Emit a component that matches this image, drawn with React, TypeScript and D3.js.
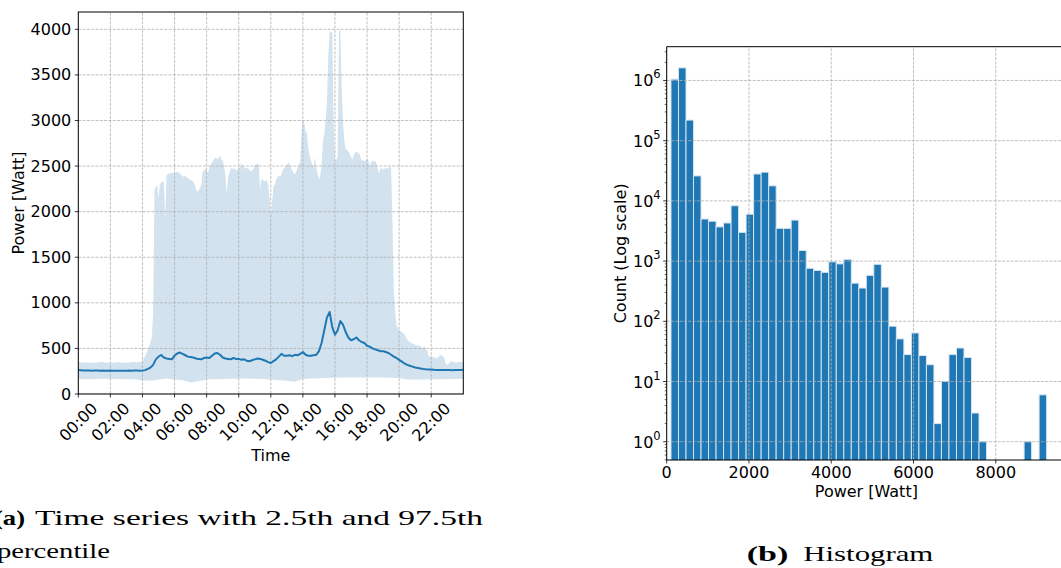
import React from "react";
import * as d3 from "d3";

// ---------- Time series (5-minute upper percentile, 10-minute mean, 30-minute lower percentile) ----------
const timeTickLabels = ["00:00", "02:00", "04:00", "06:00", "08:00", "10:00", "12:00", "14:00", "16:00", "18:00", "20:00", "22:00"];
const powerTicks = [0, 500, 1000, 1500, 2000, 2500, 3000, 3500, 4000];

// 97.5th percentile, one value every 5 minutes from 00:00 to 24:00
const upper975 = [
  352, 350, 348, 346, 344, 345, 346, 344, 343, 344, 345, 344,
  343, 344, 346, 348, 350, 352, 350, 348, 346, 345, 344, 343,
  342, 343, 344, 345, 346, 347, 348, 346, 345, 344, 343, 342,
  343, 344, 346, 348, 350, 352, 350, 349, 348, 350, 352, 355,
  360, 390, 420, 450, 480, 520, 570, 620, 900, 2240, 2270, 2285,
  2150, 2300, 2320, 2330, 2330, 1920, 2400, 2410, 2420, 2415, 2430, 2420,
  2420, 2430, 2440, 2430, 2425, 2400, 2390, 2380, 2400, 2380, 2370, 2350,
  2350, 2340, 2330, 2300, 2250, 2220, 2230, 2260, 2300, 2440, 2450, 2470,
  2460, 2420, 2480, 2520, 2540, 2560, 2580, 2600, 2570, 2590, 2620, 2570,
  2560, 2500, 2400, 2200, 2380, 2420, 2470, 2480, 2460, 2480, 2450, 2460,
  2470, 2490, 2530, 2500, 2490, 2470, 2480, 2475, 2460, 2440, 2450, 2470,
  2500, 2520, 2530, 2510, 2240, 2360, 2350, 2340, 2330, 2350, 2300, 2170,
  1950, 2100, 2280, 2300, 2350, 2380, 2400, 2380, 2410, 2460, 2480, 2490,
  2510, 2540, 2520, 2480, 2460, 2420, 2410, 2440, 2480, 2510, 2550, 2880,
  3000, 2980, 2880, 2870, 2700, 2620, 2560, 2520, 2490, 2600, 2480, 2420,
  2350, 2400, 2500, 2780, 2850, 3000, 3200, 3700, 3960, 3975, 3970, 2960,
  2560, 2570, 2600, 3990, 3985, 3360, 3000, 2780, 2690, 2680, 2660, 2640,
  2600, 2570, 2620, 2650, 2660, 2640, 2650, 2600, 2560, 2570, 2550, 2560,
  2580, 2560, 2500, 2540, 2560, 2550, 2560, 2530, 2470, 2420, 2470, 2480,
  2460, 2470, 2480, 2470, 2490, 2480, 2490, 1900, 1150, 900, 760, 720,
  700, 690, 680, 670, 650, 620, 600, 580, 570, 560, 555, 545,
  540, 530, 540, 520, 530, 510, 500, 520, 500, 480, 420, 410,
  410, 405, 400, 395, 390, 400, 420, 430, 420, 410, 380, 330,
  320, 330, 350, 360, 355, 350, 345, 345, 348, 350, 350, 350,
  350,
];

// mean power, one value every 10 minutes from 00:00 to 24:00
const meanPower = [
  262, 260, 258, 257, 258, 256,
  257, 258, 256, 257, 255, 256,
  257, 256, 255, 256, 254, 255,
  256, 257, 256, 258, 257, 256,
  257, 262, 275, 290, 320, 380,
  410, 428, 400, 390, 385, 380,
  420, 445, 455, 440, 425, 410,
  405, 400, 390, 385, 380, 395,
  400, 395, 420, 445, 450, 430,
  400, 390, 385, 380, 395, 385,
  385, 375, 380, 365, 360, 370,
  380, 390, 385, 375, 365, 350,
  340, 360, 380, 410, 440, 420,
  420, 425, 415, 430, 425, 440,
  460, 430, 420, 420, 425, 430,
  470, 560, 700, 840, 900, 730,
  650, 700, 800, 760, 680, 620,
  590, 600, 620, 590, 570, 560,
  530, 520, 500, 490, 480, 470,
  470, 460, 450, 430, 410, 395,
  375, 355, 335, 320, 310, 300,
  290, 285, 280, 275, 272, 270,
  268, 265, 264, 263, 262, 262,
  262, 262, 261, 262, 263, 264,
  265,
];

// 2.5th percentile, one value every 30 minutes from 00:00 to 24:00
const lower025 = [
  165, 163, 165, 166, 165, 164, 163, 161, 150, 145,
  160, 170, 160, 150, 125, 140, 160, 162, 165, 168,
  168, 170, 168, 165, 160, 150, 145, 135, 165, 170,
  172, 175, 178, 180, 180, 182, 180, 182, 180, 178,
  175, 160, 158, 160, 162, 163, 164, 165, 165,
];

// ---------- Histogram (50 equal bins between the minimum and maximum power) ----------
const powerExtent = [104, 9236];
const binCounts = [
  1050000, 1620000, 220000, 26000, 5000, 4600, 3700, 4300, 8300, 3000,
  6000, 28000, 30000, 17800, 3500, 3500, 4800, 1500, 760, 700,
  650, 970, 900, 1070, 430, 357, 580, 885, 370, 83,
  51, 28, 64, 27, 19, 2, 10, 28, 36, 25,
  3, 1, 0, 0, 0, 0, 0, 1, 0, 6,
];
const histXTicks = [0, 2000, 4000, 6000, 8000];
const histYDecades = [0, 1, 2, 3, 4, 5, 6];

const BLUE = "#1f77b4";
const BAND = "#d2e3ef";
const GRID = "#b0b0b0";
const FONT = "DejaVu Sans, Verdana, sans-serif";
const SERIF = "'Liberation Serif', 'DejaVu Serif', serif";

export default function App() {
  // left panel geometry
  const L = { x0: 78.3, x1: 463.3, y0: 394, y1: 12 };
  const xT = d3.scaleLinear().domain([0, 24]).range([L.x0, L.x1]);
  const yP = d3.scaleLinear().domain([0, 4190]).range([L.y0, L.y1]);

  const upperPts = upper975.map((v, i) => [xT((i * 5) / 60), yP(v)] as [number, number]);
  const lowerPts = lower025.map((v, i) => [xT((i * 30) / 60), yP(v)] as [number, number]);
  const bandPath = d3.line()([...upperPts, ...lowerPts.slice().reverse()]) + "Z";
  const meanPath = d3.line<number>()
    .x((_, i) => xT((i * 10) / 60))
    .y((v) => yP(v))(meanPower) || "";

  // right panel geometry
  const H = { x0: 666.7, x1: 1066, y0: 460, y1: 46.7 };
  const xW = d3.scaleLinear().domain([0, 9707]).range([H.x0, H.x1]);
  const yC = d3.scaleLog().domain([0.497, 3.64e6]).range([H.y0, H.y1]);
  const binW = (powerExtent[1] - powerExtent[0]) / binCounts.length;

  const minorTicks: number[] = [];
  for (let k = -1; k <= 6; k++) {
    for (let m = 2; m <= 9; m++) {
      const v = m * Math.pow(10, k);
      if (v >= 0.497 && v <= 3.64e6) minorTicks.push(v);
    }
  }

  return (
    <svg
      width={1061}
      height={568}
      style={{ position: "absolute", left: 0, top: 0, background: "#fff" }}
      fontFamily={FONT}
    >
      <defs>
        <clipPath id="clipL">
          <rect x={L.x0} y={L.y1} width={L.x1 - L.x0} height={L.y0 - L.y1} />
        </clipPath>
        <clipPath id="clipH">
          <rect x={H.x0} y={H.y1} width={H.x1 - H.x0} height={H.y0 - H.y1} />
        </clipPath>
      </defs>

      {/* ===== Time series panel ===== */}
      <g clipPath="url(#clipL)">
        <path d={bandPath} fill={BAND} stroke="none" />
        {powerTicks.map((t) => (
          <line key={"gy" + t} x1={L.x0} x2={L.x1} y1={yP(t)} y2={yP(t)} stroke={GRID} strokeWidth={0.8} strokeDasharray="3,1.3" />
        ))}
        {timeTickLabels.map((_, i) => (
          <line key={"gx" + i} x1={xT(i * 2)} x2={xT(i * 2)} y1={L.y0} y2={L.y1} stroke={GRID} strokeWidth={0.8} strokeDasharray="3,1.3" />
        ))}
        <path d={meanPath} fill="none" stroke={BLUE} strokeWidth={2} strokeLinejoin="round" />
      </g>
      <rect x={L.x0} y={L.y1} width={L.x1 - L.x0} height={L.y0 - L.y1} fill="none" stroke="#000" strokeWidth={1} />
      {powerTicks.map((t) => (
        <g key={"ty" + t}>
          <line x1={L.x0 - 3.5} x2={L.x0} y1={yP(t)} y2={yP(t)} stroke="#000" strokeWidth={0.8} />
          <text x={L.x0 - 7} y={yP(t)} textAnchor="end" dominantBaseline="central" fontSize={16} fill="#000">
            {t}
          </text>
        </g>
      ))}
      {timeTickLabels.map((lab, i) => (
        <g key={"tx" + lab}>
          <line x1={xT(i * 2)} x2={xT(i * 2)} y1={L.y0} y2={L.y0 + 3.5} stroke="#000" strokeWidth={0.8} />
          <text
            transform={`translate(${xT(i * 2)},${422}) rotate(-45)`}
            textAnchor="middle"
            dominantBaseline="central"
            fontSize={16}
            fill="#000"
          >
            {lab}
          </text>
        </g>
      ))}
      <text x={(L.x0 + L.x1) / 2} y={461} textAnchor="middle" fontSize={16} fill="#000">
        Time
      </text>
      <text transform={`translate(${24},${(L.y0 + L.y1) / 2}) rotate(-90)`} textAnchor="middle" fontSize={16} fill="#000">
        Power [Watt]
      </text>

      {/* ===== Histogram panel ===== */}
      <g clipPath="url(#clipH)">
        {binCounts.map((c, i) =>
          c > 0 ? (
            <rect
              key={"b" + i}
              x={xW(powerExtent[0] + i * binW)}
              width={xW(powerExtent[0] + (i + 1) * binW) - xW(powerExtent[0] + i * binW)}
              y={yC(c)}
              height={H.y0 - yC(c) + 2}
              fill={BLUE}
              stroke="#d4e5f2"
              strokeWidth={1}
            />
          ) : null
        )}
        {histYDecades.map((d) => (
          <line key={"hgy" + d} x1={H.x0} x2={H.x1} y1={yC(Math.pow(10, d))} y2={yC(Math.pow(10, d))} stroke={GRID} strokeWidth={0.8} strokeDasharray="3,1.3" />
        ))}
        {histXTicks.map((t) => (
          <line key={"hgx" + t} x1={xW(t)} x2={xW(t)} y1={H.y0} y2={H.y1} stroke={GRID} strokeWidth={0.8} strokeDasharray="3,1.3" />
        ))}
      </g>
      <line x1={H.x0} x2={H.x0} y1={H.y0} y2={H.y1} stroke="#000" strokeWidth={1} />
      <line x1={H.x0} x2={H.x1} y1={H.y0} y2={H.y0} stroke="#000" strokeWidth={1} />
      <line x1={H.x0} x2={H.x1} y1={H.y1} y2={H.y1} stroke="#000" strokeWidth={1} />
      <line x1={H.x1} x2={H.x1} y1={H.y0} y2={H.y1} stroke="#000" strokeWidth={1} />
      {histXTicks.map((t) => (
        <g key={"htx" + t}>
          <line x1={xW(t)} x2={xW(t)} y1={H.y0} y2={H.y0 + 3.5} stroke="#000" strokeWidth={0.8} />
          <text x={xW(t)} y={478} textAnchor="middle" fontSize={16} fill="#000">
            {t}
          </text>
        </g>
      ))}
      {minorTicks.map((v, i) => (
        <line key={"mt" + i} x1={H.x0 - 2} x2={H.x0} y1={yC(v)} y2={yC(v)} stroke="#000" strokeWidth={0.6} />
      ))}
      {histYDecades.map((d) => (
        <g key={"hty" + d}>
          <line x1={H.x0 - 3.5} x2={H.x0} y1={yC(Math.pow(10, d))} y2={yC(Math.pow(10, d))} stroke="#000" strokeWidth={0.8} />
          <text x={H.x0 - 6} y={yC(Math.pow(10, d)) + 6} textAnchor="end" fontSize={16} fill="#000">
            10
            <tspan fontSize={11.5} dy={-8}>{d}</tspan>
          </text>
        </g>
      ))}
      <text x={(H.x0 + H.x1) / 2} y={497} textAnchor="middle" fontSize={16} fill="#000">
        Power [Watt]
      </text>
      <text transform={`translate(${626},${(H.y0 + H.y1) / 2}) rotate(-90)`} textAnchor="middle" fontSize={16} fill="#000">
        Count (Log scale)
      </text>

      {/* ===== Captions ===== */}
      <g fontFamily={SERIF} fontSize={21} fill="#000">
        <text x={-6} y={525} fontWeight="bold" textLength={31} lengthAdjust="spacingAndGlyphs">(a)</text>
        <text x={35} y={525} textLength={448} lengthAdjust="spacingAndGlyphs">Time series with 2.5th and 97.5th</text>
        <text x={-3} y={558} textLength={113} lengthAdjust="spacingAndGlyphs">percentile</text>
        <text x={746.7} y={561} fontWeight="bold" textLength={41.6} lengthAdjust="spacingAndGlyphs">(b)</text>
        <text x={803.3} y={561} textLength={130} lengthAdjust="spacingAndGlyphs">Histogram</text>
      </g>
    </svg>
  );
}
